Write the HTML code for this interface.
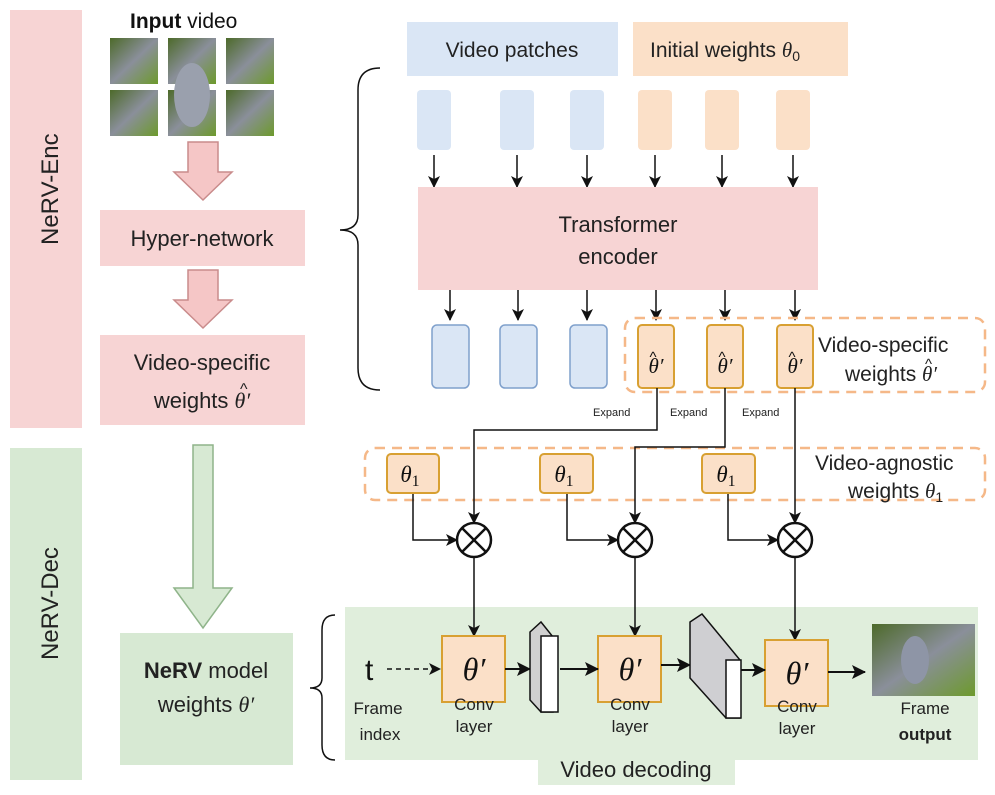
<!DOCTYPE html>
<html><head><meta charset="utf-8"><style>
body{margin:0;background:#fff;}
svg{display:block;font-family:"Liberation Sans",sans-serif;}
.m{font-family:"Liberation Serif",serif;font-style:italic;}
</style></head><body>
<svg width="995" height="795" viewBox="0 0 995 795">
<defs>
<marker id="a" markerWidth="12" markerHeight="12" refX="11" refY="6" orient="auto" markerUnits="userSpaceOnUse"><path d="M0,0 L12,6 L0,12 L3,6z" fill="#111"/></marker>
<marker id="b" markerWidth="14" markerHeight="14" refX="13" refY="7" orient="auto" markerUnits="userSpaceOnUse"><path d="M0,0 L14,7 L0,14 L3,7z" fill="#111"/></marker>
<linearGradient id="g1" x1="0" y1="0" x2="1" y2="1"><stop offset="0" stop-color="#4d6a2a"/><stop offset=".5" stop-color="#8a8f9a"/><stop offset="1" stop-color="#6d9a2c"/></linearGradient>
</defs>
<rect x="10" y="10" width="72" height="418" fill="#f7d4d4"/>
<text transform="translate(58,245) rotate(-90)" font-size="24" fill="#222">NeRV-Enc</text>
<rect x="10" y="448" width="72" height="332" fill="#d7e9d3"/>
<text transform="translate(58,660) rotate(-90)" font-size="24" fill="#222">NeRV-Dec</text>
<text x="130" y="28" font-size="21" fill="#111"><tspan font-weight="bold">Input</tspan> video</text>
<g fill="url(#g1)">
<rect x="110" y="38" width="48" height="46"/><rect x="168" y="38" width="48" height="46"/><rect x="226" y="38" width="48" height="46"/>
<rect x="110" y="90" width="48" height="46"/><rect x="168" y="90" width="48" height="46"/><rect x="226" y="90" width="48" height="46"/>
</g>
<ellipse cx="192" cy="95" rx="18" ry="32" fill="#9aa0ad"/>
<path d="M188,142 H218 V172 H232 L203,200 L174,172 H188Z" fill="#f5c6c6" stroke="#c98b8b" stroke-width="1.5"/>
<path d="M188,270 H218 V300 H232 L203,328 L174,300 H188Z" fill="#f5c6c6" stroke="#c98b8b" stroke-width="1.5"/>
<rect x="100" y="210" width="205" height="56" fill="#f7d4d4"/>
<text x="202" y="246" font-size="22" text-anchor="middle" fill="#222">Hyper-network</text>
<rect x="100" y="335" width="205" height="90" fill="#f7d4d4"/>
<text x="202" y="370" font-size="22" text-anchor="middle" fill="#222">Video-specific</text>
<text x="202" y="408" font-size="22" text-anchor="middle" fill="#222">weights <tspan class="m">θ′</tspan></text>
<text x="240" y="394" font-size="16" fill="#222">^</text>
<path d="M193,445 H213 V588 H232 L203,628 L174,588 H193Z" fill="#d7e9d3" stroke="#8fb48a" stroke-width="1.5"/>
<rect x="120" y="633" width="173" height="132" fill="#d7e9d3"/>
<text x="206" y="678" font-size="22" text-anchor="middle" fill="#222"><tspan font-weight="bold">NeRV</tspan> model</text>
<text x="206" y="712" font-size="22" text-anchor="middle" fill="#222">weights <tspan class="m">θ′</tspan></text>
<path d="M380,68 Q358,68 358,90 V215 Q358,230 340,230 Q358,230 358,245 V368 Q358,390 380,390" fill="none" stroke="#111" stroke-width="1.5"/>
<path d="M335,615 Q322,615 322,630 V678 Q322,688 310,688 Q322,688 322,698 V745 Q322,760 335,760" fill="none" stroke="#111" stroke-width="1.5"/>
<rect x="407" y="22" width="211" height="54" fill="#dae6f5"/>
<text x="512" y="57" font-size="21" text-anchor="middle" fill="#222">Video patches</text>
<rect x="633" y="22" width="215" height="54" fill="#fbe0c8"/>
<text x="650" y="57" font-size="21" fill="#222">Initial weights <tspan class="m">θ</tspan><tspan font-size="14" dy="4">0</tspan></text>
<rect x="417" y="90" width="34" height="60" rx="4" fill="#dae6f5"/><rect x="500" y="90" width="34" height="60" rx="4" fill="#dae6f5"/><rect x="570" y="90" width="34" height="60" rx="4" fill="#dae6f5"/>
<rect x="638" y="90" width="34" height="60" rx="4" fill="#fbe0c8"/><rect x="705" y="90" width="34" height="60" rx="4" fill="#fbe0c8"/><rect x="776" y="90" width="34" height="60" rx="4" fill="#fbe0c8"/>
<g stroke="#111" stroke-width="1.5" marker-end="url(#a)">
<line x1="434" y1="155" x2="434" y2="187"/><line x1="517" y1="155" x2="517" y2="187"/><line x1="587" y1="155" x2="587" y2="187"/>
<line x1="655" y1="155" x2="655" y2="187"/><line x1="722" y1="155" x2="722" y2="187"/><line x1="793" y1="155" x2="793" y2="187"/>
<line x1="450" y1="290" x2="450" y2="320"/><line x1="518" y1="290" x2="518" y2="320"/><line x1="587" y1="290" x2="587" y2="320"/>
<line x1="656" y1="290" x2="656" y2="320"/><line x1="725" y1="290" x2="725" y2="320"/><line x1="795" y1="290" x2="795" y2="320"/>
</g>
<rect x="418" y="187" width="400" height="103" fill="#f7d4d4"/>
<text x="618" y="232" font-size="22" text-anchor="middle" fill="#222">Transformer</text>
<text x="618" y="264" font-size="22" text-anchor="middle" fill="#222">encoder</text>
<rect x="625" y="318" width="360" height="74" rx="10" fill="none" stroke="#f5b888" stroke-width="2.5" stroke-dasharray="10,7"/>
<g stroke="#7fa0cc" stroke-width="1.5" fill="#dae6f5">
<rect x="432" y="325" width="37" height="63" rx="5"/><rect x="500" y="325" width="37" height="63" rx="5"/><rect x="570" y="325" width="37" height="63" rx="5"/>
</g>
<g stroke="#d8a032" stroke-width="2" fill="#fbe0c8">
<rect x="638" y="325" width="36" height="63" rx="4"/><rect x="707" y="325" width="36" height="63" rx="4"/><rect x="777" y="325" width="36" height="63" rx="4"/>
</g>
<g class="m" font-size="21" text-anchor="middle" fill="#111">
<text x="656" y="373">θ′</text><text x="725" y="373">θ′</text><text x="795" y="373">θ′</text>
</g>
<g font-size="15" text-anchor="middle" fill="#111">
<text x="653" y="362">^</text><text x="722" y="362">^</text><text x="792" y="362">^</text>
</g>
<text x="818" y="352" font-size="21" fill="#222">Video-specific</text>
<text x="845" y="381" font-size="21" fill="#222">weights <tspan class="m">θ′</tspan></text>
<text x="925" y="369" font-size="15" fill="#222">^</text>
<g font-size="11" fill="#222"><text x="593" y="416">Expand</text><text x="670" y="416">Expand</text><text x="742" y="416">Expand</text></g>
<rect x="365" y="448" width="620" height="52" rx="10" fill="none" stroke="#f5b888" stroke-width="2.5" stroke-dasharray="10,7"/>
<text x="815" y="470" font-size="21" fill="#222">Video-agnostic</text>
<text x="848" y="498" font-size="21" fill="#222">weights <tspan class="m">θ</tspan><tspan font-size="14" dy="4">1</tspan></text>
<rect x="345" y="607" width="633" height="153" fill="#e0eedc"/>
<rect x="538" y="752" width="197" height="33" fill="#e0eedc"/>
<text x="636" y="777" font-size="22" text-anchor="middle" fill="#222">Video decoding</text>
<g stroke="#111" stroke-width="1.5" fill="none" marker-end="url(#a)">
<path d="M657,388 V430 H474 V523"/><path d="M725,388 V447 H635 V523"/><path d="M795,388 V523"/>
<path d="M413,492 V540 H457"/><path d="M567,492 V540 H618"/><path d="M728,492 V540 H778"/>
<path d="M474,558 V636"/><path d="M635,558 V636"/><path d="M795,558 V640"/>
</g>
<g stroke="#d8a032" stroke-width="2" fill="#fbe0c8">
<rect x="387" y="454" width="52" height="39" rx="4"/><rect x="540" y="454" width="53" height="39" rx="4"/><rect x="702" y="454" width="53" height="39" rx="4"/>
</g>
<g class="m" font-size="23" text-anchor="middle" fill="#111">
<text x="410" y="482">θ<tspan font-style="normal" font-size="16" dy="4">1</tspan></text><text x="564" y="482">θ<tspan font-style="normal" font-size="16" dy="4">1</tspan></text><text x="726" y="482">θ<tspan font-style="normal" font-size="16" dy="4">1</tspan></text>
</g>
<g stroke="#111" stroke-width="2.5" fill="#fff">
<circle cx="474" cy="540" r="17"/><circle cx="635" cy="540" r="17"/><circle cx="795" cy="540" r="17"/>
</g>
<g stroke="#111" stroke-width="2.5">
<line x1="462" y1="528" x2="486" y2="552"/><line x1="486" y1="528" x2="462" y2="552"/>
<line x1="623" y1="528" x2="647" y2="552"/><line x1="647" y1="528" x2="623" y2="552"/>
<line x1="783" y1="528" x2="807" y2="552"/><line x1="807" y1="528" x2="783" y2="552"/>
</g>
<text x="365" y="680" font-size="30" fill="#111">t</text>
<line x1="387" y1="669" x2="440" y2="669" stroke="#111" stroke-width="1.5" stroke-dasharray="5,4" marker-end="url(#a)"/>
<g stroke="#d8a032" stroke-width="2" fill="#fbe0c8">
<rect x="442" y="636" width="63" height="66"/><rect x="598" y="636" width="63" height="66"/><rect x="765" y="640" width="63" height="66"/>
</g>
<g class="m" font-size="32" text-anchor="middle" fill="#111">
<text x="474" y="680">θ′</text><text x="630" y="680">θ′</text><text x="797" y="684">θ′</text>
</g>
<g stroke="#111" stroke-width="2" marker-end="url(#b)">
<line x1="505" y1="669" x2="530" y2="669"/>
<line x1="560" y1="669" x2="598" y2="669"/>
<line x1="661" y1="665" x2="690" y2="665"/>
<line x1="740" y1="670" x2="765" y2="670"/>
<line x1="828" y1="672" x2="865" y2="672"/>
</g>
<path d="M530,632 L541,622 L553,637 L553,712 L541,712 L530,700Z" fill="#d0d0d0" stroke="#111" stroke-width="1.5"/>
<rect x="541" y="636" width="17" height="76" fill="#fff" stroke="#111" stroke-width="1.5"/>
<path d="M690,622 L702,614 L740,660 L740,718 L726,718 L690,678Z" fill="#cfcfd2" stroke="#111" stroke-width="1.5"/>
<rect x="726" y="660" width="15" height="58" fill="#fff" stroke="#111" stroke-width="1.5"/>
<rect x="872" y="624" width="103" height="72" fill="url(#g1)"/>
<ellipse cx="915" cy="660" rx="14" ry="24" fill="#8e95a6"/>
<g font-size="17" fill="#222" text-anchor="middle">
<text x="378" y="714">Frame</text><text x="380" y="740">index</text>
<text x="474" y="710">Conv</text><text x="474" y="732">layer</text>
<text x="630" y="710">Conv</text><text x="630" y="732">layer</text>
<text x="797" y="712">Conv</text><text x="797" y="734">layer</text>
<text x="925" y="714">Frame</text><text x="925" y="740" font-weight="bold">output</text>
</g>
</svg>
</body></html>
